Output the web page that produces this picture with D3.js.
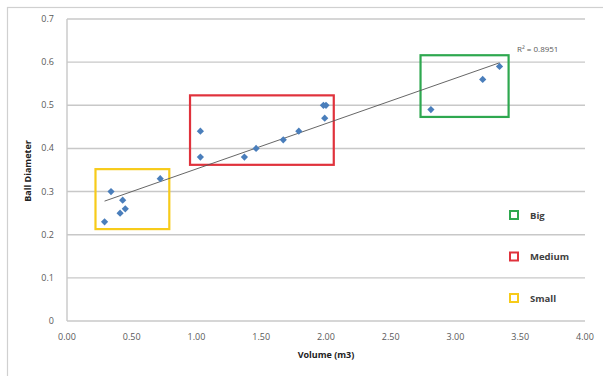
<!DOCTYPE html>
<html>
<head>
<meta charset="utf-8">
<script src="https://cdn.jsdelivr.net/npm/d3@7"></script>
<style>
  body { margin: 0; background: #fff; }
  text { font-family: "Open Sans", "Liberation Sans", sans-serif; }
  .tick-label { font-size: 9px; fill: #595959; }
  .axis-title { font-size: 9px; font-weight: bold; fill: #222; }
  .legend-label { font-size: 9.5px; font-weight: bold; fill: #404040; }
  .grid { stroke: #c8c8c8; stroke-width: 1.4; }
</style>
</head>
<body>
<div id="vis"></div>
<script>
// volume (m3) vs ball diameter
var volumes = [0.29, 0.34, 0.43, 0.45, 0.41, 0.72, 1.03, 1.03, 1.37, 1.46, 1.67, 1.79, 1.99, 1.98, 2.00, 2.81, 3.21, 3.34];
var diameters = [0.23, 0.30, 0.28, 0.26, 0.25, 0.33, 0.44, 0.38, 0.38, 0.40, 0.42, 0.44, 0.47, 0.50, 0.50, 0.49, 0.56, 0.59];

var xTicks = [0, 0.5, 1, 1.5, 2, 2.5, 3, 3.5, 4];
var yTicks = [0, 0.1, 0.2, 0.3, 0.4, 0.5, 0.6, 0.7];

// size groups: [x0, x1, y0, y1] in data units
var groupNames = ["Big", "Medium", "Small"];
var groupColors = ["#2EA84F", "#E0323C", "#F7CB1A"];
var groupBoxes = [
  [2.73, 3.41, 0.473, 0.616],
  [0.95, 2.06, 0.362, 0.523],
  [0.22, 0.79, 0.213, 0.352]
];
var rSquared = "R\u00B2 = 0.8951";

var width = 603, height = 376;
var margin = {top: 19, right: 18, bottom: 55, left: 67};

var svg = d3.select("#vis").append("svg")
  .attr("width", width)
  .attr("height", height);

// outer chart border
svg.append("rect")
  .attr("x", 7.5).attr("y", 7.5)
  .attr("width", 620).attr("height", 400)
  .attr("fill", "none")
  .attr("stroke", "#d0d0d0")
  .attr("stroke-width", 1.2);

var x = d3.scaleLinear().domain([0, 4]).range([margin.left, width - margin.right]);
var y = d3.scaleLinear().domain([0, 0.7]).range([height - margin.bottom - 0, margin.top]);

var g = svg.append("g");

g.selectAll(".grid")
  .data(yTicks).enter()
  .append("line")
  .attr("class", "grid")
  .attr("x1", x(0))
  .attr("x2", x(4))
  .attr("y1", function(d) { return y(d); })
  .attr("y2", function(d) { return y(d); });

g.append("line")
  .attr("class", "grid")
  .attr("x1", x(0)).attr("x2", x(0))
  .attr("y1", y(0)).attr("y2", y(0.7));

g.selectAll(".ylab")
  .data(yTicks).enter()
  .append("text")
  .attr("class", "tick-label")
  .attr("text-anchor", "end")
  .attr("x", x(0) - 13)
  .attr("y", function(d) { return y(d) + 3; })
  .text(function(d) { return d3.format("~g")(d); });

g.selectAll(".xlab")
  .data(xTicks).enter()
  .append("text")
  .attr("class", "tick-label")
  .attr("text-anchor", "middle")
  .attr("x", function(d) { return x(d); })
  .attr("y", y(0) + 19)
  .text(function(d) { return d3.format(".2f")(d); });

g.append("text")
  .attr("class", "axis-title")
  .attr("text-anchor", "middle")
  .attr("x", (x(0) + x(4)) / 2)
  .attr("y", y(0) + 37)
  .text("Volume (m3)");

g.append("text")
  .attr("class", "axis-title")
  .attr("text-anchor", "middle")
  .attr("transform", "translate(31," + 171 + ") rotate(-90)")
  .text("Ball Diameter");

// group boxes
g.selectAll(".box")
  .data(groupBoxes).enter()
  .append("rect")
  .attr("x", function(d) { return x(d[0]); })
  .attr("y", function(d) { return y(d[3]); })
  .attr("width", function(d) { return x(d[1]) - x(d[0]); })
  .attr("height", function(d) { return y(d[2]) - y(d[3]); })
  .attr("fill", "none")
  .attr("stroke", function(d, i) { return groupColors[i]; })
  .attr("stroke-width", 2.2);

// linear trend line
var n = volumes.length;
var mx = d3.mean(volumes), my = d3.mean(diameters);
var sxy = 0, sxx = 0;
for (var i = 0; i < n; i++) {
  sxy += (volumes[i] - mx) * (diameters[i] - my);
  sxx += (volumes[i] - mx) * (volumes[i] - mx);
}
var slope = sxy / sxx;
var icept = my - slope * mx;
var xMin = d3.min(volumes), xMax = d3.max(volumes);

g.append("line")
  .attr("x1", x(xMin)).attr("y1", y(icept + slope * xMin))
  .attr("x2", x(xMax)).attr("y2", y(icept + slope * xMax))
  .attr("stroke", "#555")
  .attr("stroke-width", 0.9);

g.selectAll(".pt")
  .data(volumes).enter()
  .append("path")
  .attr("d", d3.symbol().type(d3.symbolSquare).size(26))
  .attr("transform", function(d, i) { return "translate(" + x(d) + "," + y(diameters[i]) + ") rotate(45)"; })
  .attr("fill", "#4A7EBB");

g.append("text")
  .attr("class", "tick-label")
  .attr("x", 517)
  .attr("y", 52)
  .style("font-size", "8px")
  .text(rSquared);

// legend
var legend = g.selectAll(".legend")
  .data(groupNames).enter()
  .append("g")
  .attr("transform", function(d, i) { return "translate(510," + (215 + i * 41.5) + ")"; });

legend.append("rect")
  .attr("x", 0).attr("y", -4)
  .attr("width", 8).attr("height", 8)
  .attr("fill", "#fff")
  .attr("stroke", function(d, i) { return groupColors[i]; })
  .attr("stroke-width", 2);

legend.append("text")
  .attr("class", "legend-label")
  .attr("x", 20)
  .attr("y", 3.5)
  .text(function(d) { return d; });
</script>
</body>
</html>
